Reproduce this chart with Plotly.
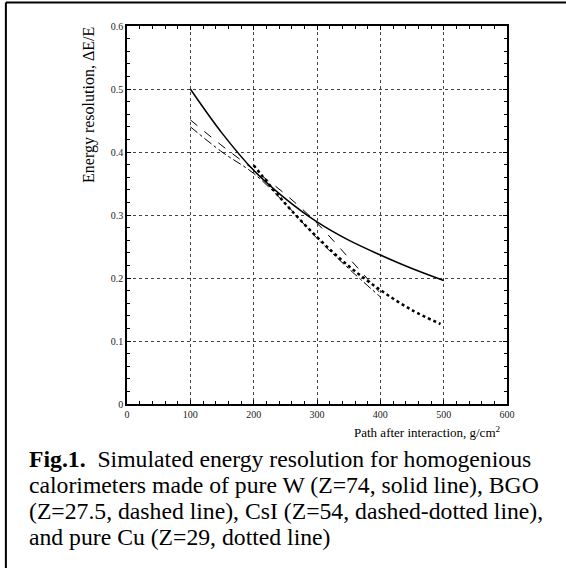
import plotly.graph_objects as go

# Data
x_w = [100, 150, 200, 250, 300, 350, 400, 450, 500]
y_w = [0.500, 0.430, 0.371, 0.326, 0.289, 0.260, 0.2365, 0.215, 0.196]

x_bgo = [100, 150, 200, 250, 300, 350, 398]
y_bgo = [0.451, 0.410, 0.372, 0.333, 0.287, 0.232, 0.178]

x_csi = [100, 150, 200, 250, 300, 350, 400]
y_csi = [0.440, 0.400, 0.366, 0.318, 0.263, 0.215, 0.170]

x_cu = [200, 250, 300, 350, 400, 450, 495]
y_cu = [0.379, 0.318, 0.265, 0.219, 0.181, 0.149, 0.127]

x_ticks = [0, 100, 200, 300, 400, 500, 600]
y_ticks = [0, 0.1, 0.2, 0.3, 0.4, 0.5, 0.6]
y_tick_labels = ["0", "0.1", "0.2", "0.3", "0.4", "0.5", "0.6"]

caption_lines = [
    "<b>Fig.1.</b>&nbsp; Simulated energy resolution for homogenious",
    "calorimeters made of pure W (Z=74, solid line), BGO",
    "(Z=27.5, dashed line), CsI (Z=54, dashed-dotted line),",
    "and pure Cu (Z=29, dotted line)",
]

SERIF = "Liberation Serif, Times New Roman, serif"

fig = go.Figure()
fig.add_trace(go.Scatter(x=x_w, y=y_w, mode="lines", line=dict(color="black", width=1.5, shape="spline"), name="W"))
fig.add_trace(go.Scatter(x=x_bgo, y=y_bgo, mode="lines", line=dict(color="black", width=1, dash="dash", shape="spline"), name="BGO"))
fig.add_trace(go.Scatter(x=x_csi, y=y_csi, mode="lines", line=dict(color="black", width=1, dash="dashdot", shape="spline"), name="CsI"))
fig.add_trace(go.Scatter(x=x_cu, y=y_cu, mode="lines", line=dict(color="black", width=2.5, dash="dot", shape="spline"), name="Cu"))

axis_common = dict(
    showline=True, linecolor="black", linewidth=1.5, mirror="allticks",
    ticks="inside", ticklen=4, tickwidth=1, tickcolor="black",
    showgrid=True, gridcolor="#444", griddash="dot", gridwidth=1,
    zeroline=False, tickfont=dict(family=SERIF, size=10, color="#222"),
)

fig.update_xaxes(range=[0, 600], tickvals=x_ticks, ticktext=[str(v) for v in x_ticks],
                 minor=dict(dtick=20, ticks="inside", ticklen=3, tickcolor="black", showgrid=False),
                 **axis_common)
fig.update_yaxes(range=[0, 0.6], tickvals=y_ticks, ticktext=y_tick_labels,
                 minor=dict(dtick=0.02, ticks="inside", ticklen=3, tickcolor="black", showgrid=False),
                 **axis_common)

annotations = [
    dict(text="Path after interaction, g/cm<sup>2</sup>", xref="paper", yref="paper",
         x=0.99, y=-0.074, xanchor="right", yanchor="middle", showarrow=False,
         font=dict(family=SERIF, size=13, color="black")),
    dict(text="Energy resolution, ΔE/E", xref="paper", yref="paper", textangle=-90,
         x=-0.1001, y=1.0026, xanchor="center", yanchor="top", showarrow=False,
         font=dict(family=SERIF, size=16, color="black")),
]
cap_y = [-0.1455, -0.2143, -0.2831, -0.3519]
for txt, yy in zip(caption_lines, cap_y):
    annotations.append(dict(text=txt, xref="paper", yref="paper", x=-0.2634, y=yy,
                            xanchor="left", yanchor="middle", showarrow=False, align="left",
                            font=dict(family=SERIF, size=23.7, color="black")))

# frame of the figure (top and left edges visible)
shapes = [
    dict(type="line", xref="paper", yref="paper", x0=-0.3187, x1=1.2, y0=1.0622, y1=1.0622,
         line=dict(color="black", width=2)),
    dict(type="line", xref="paper", yref="paper", x0=-0.3187, x1=-0.3187, y0=1.0622, y1=-0.5,
         line=dict(color="black", width=2)),
]

fig.update_layout(
    width=566, height=568,
    margin=dict(l=127, r=59, t=26, b=164),
    paper_bgcolor="white", plot_bgcolor="white",
    showlegend=False,
    annotations=annotations, shapes=shapes,
)

fig.write_html("out.html",
               config={"displayModeBar": False},
               post_script="document.body.style.margin='0';document.body.style.overflow='hidden';")
